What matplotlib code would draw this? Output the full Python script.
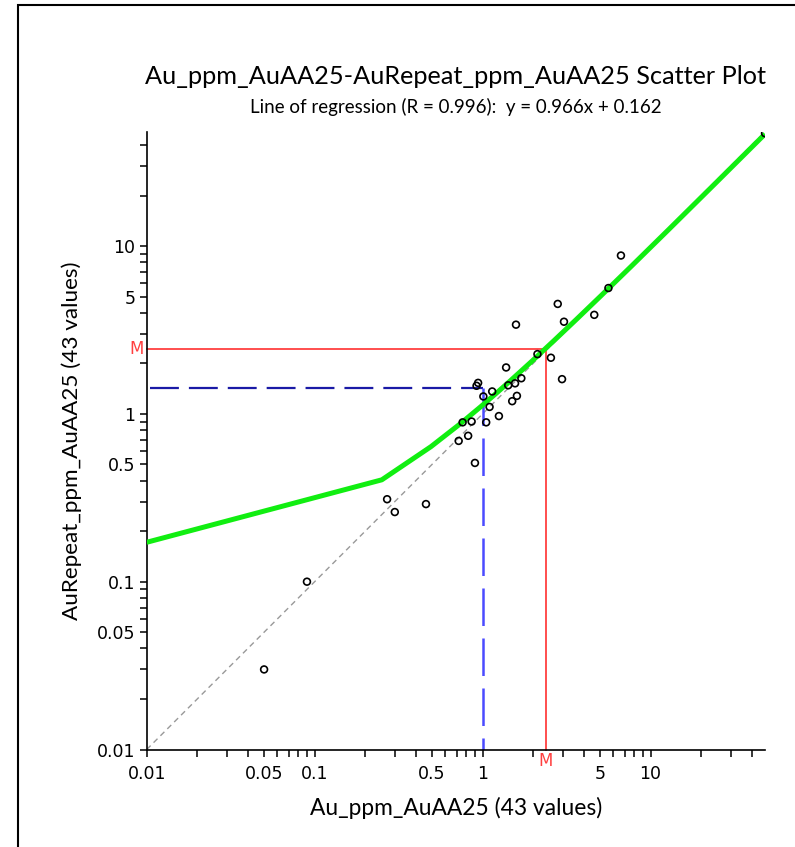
import numpy as np
import matplotlib
matplotlib.use('Agg')
import matplotlib.pyplot as plt
from matplotlib.ticker import FixedLocator, FixedFormatter, NullFormatter
from matplotlib.patches import Rectangle

# Au_ppm_AuAA25 (x) vs AuRepeat_ppm_AuAA25 (y), 43 values
# the last ten are below detection (0.005) and fall outside the 0.01 axis floor
au_ppm = [48.0, 6.66, 5.61, 4.62, 2.80, 3.05, 1.58, 2.12, 2.55, 1.38, 2.97,
          1.70, 1.56, 1.42, 0.94, 0.92, 1.14, 1.01, 1.60, 1.50, 1.10, 1.25,
          1.05, 0.86, 0.76, 0.82, 0.72, 0.90, 0.27, 0.30, 0.46, 0.09, 0.05,
          0.005, 0.005, 0.005, 0.005, 0.005, 0.005, 0.005, 0.005, 0.005, 0.005]
au_repeat = [47.0, 8.78, 5.62, 3.89, 4.52, 3.54, 3.40, 2.27, 2.16, 1.89, 1.61,
             1.63, 1.52, 1.48, 1.53, 1.47, 1.36, 1.27, 1.28, 1.19, 1.10, 0.97,
             0.89, 0.90, 0.89, 0.74, 0.69, 0.51, 0.31, 0.26, 0.29, 0.10, 0.03,
             0.005, 0.005, 0.005, 0.005, 0.005, 0.005, 0.005, 0.005, 0.005, 0.005]

slope = 0.966
intercept = 0.162
r_value = 0.996

cursor_x = 1.0
cursor_y = 1.43

tick_values = [0.01, 0.05, 0.1, 0.5, 1, 5, 10]
tick_labels = ['0.01', '0.05', '0.1', '0.5', '1', '5', '10']

title_font = 'Lato'

x = np.array(au_ppm)
y = np.array(au_repeat)
lo = 0.01
hi = max(x.max(), y.max())
mean_x = x.mean()
mean_y = y.mean()

fig = plt.figure(figsize=(7.95, 8.47), dpi=100)
fig.patch.set_facecolor('white')

# outer frame (cut off on the right and bottom, like the screenshot)
fig.patches.append(Rectangle((0.0226, -0.05), 1.2, 1.044, transform=fig.transFigure,
                             fill=False, edgecolor='black', linewidth=1.5))

ax = fig.add_axes([0.1845, 0.1151, 0.7778, 0.7294])
ax.set_xscale('log')
ax.set_yscale('log')
ax.set_xlim(lo, hi)
ax.set_ylim(lo, hi)

# 1:1 reference line
ax.plot([lo, hi], [lo, hi], color='#999999', linewidth=1, linestyle=(0, (4, 3)), zorder=1)

# mean lines
ax.plot([mean_x, mean_x], [lo, mean_y], color='#ff4040', linewidth=1.3, zorder=2, clip_on=False)
ax.plot([lo, mean_x], [mean_y, mean_y], color='#ff4040', linewidth=1.3, zorder=2, clip_on=False)

# cursor cross-hair
ax.plot([lo * 1.04, cursor_x], [cursor_y, cursor_y], color='#1a1aa6', linewidth=1.6,
        linestyle=(0, (13, 4.5)), zorder=2)
ax.plot([cursor_x, cursor_x], [cursor_y, lo], color='#4a4aff', linewidth=1.8,
        linestyle=(0, (15, 5)), zorder=2)

# regression line, evaluated on a linear grid
xl = np.linspace(lo, hi, 200)
ax.plot(xl, slope * xl + intercept, color='#11ee11', linewidth=3.6, zorder=3,
        solid_capstyle='butt')

ax.scatter(x, y, s=24, facecolors='none', edgecolors='black', linewidths=1.2, zorder=4)

# axes styling
for side in ['top', 'right']:
    ax.spines[side].set_visible(False)
for side in ['left', 'bottom']:
    ax.spines[side].set_linewidth(1.2)

minor = [m * 10.0 ** e for e in range(-2, 2) for m in range(1, 10)]
minor = [v for v in minor if v <= hi and not any(abs(v - t) < 1e-9 for t in tick_values)]
for axis in [ax.xaxis, ax.yaxis]:
    axis.set_major_locator(FixedLocator(tick_values))
    axis.set_major_formatter(FixedFormatter(tick_labels))
    axis.set_minor_locator(FixedLocator(minor))
    axis.set_minor_formatter(NullFormatter())
ax.tick_params(which='both', direction='out', length=5, width=1.1, labelsize=12.5,
               colors='black')
ax.tick_params(axis='x', which='major', pad=6)
ax.tick_params(axis='y', which='major', pad=3)

# "M" markers on the axes
ax.text(mean_x, -0.004, 'M', transform=ax.get_xaxis_transform(), color='#ff4040',
        fontsize=12, ha='center', va='top')
ax.text(-0.004, mean_y, 'M', transform=ax.get_yaxis_transform(), color='#ff4040',
        fontsize=12, ha='right', va='center')

cx = 0.1845 + 0.7778 / 2
fig.text(cx, 0.910, 'Au_ppm_AuAA25-AuRepeat_ppm_AuAA25 Scatter Plot',
         fontsize=18.2, family=title_font, ha='center', va='center')
fig.text(cx, 0.874, f'Line of regression (R = {r_value}):  y = {slope}x + {intercept}',
         fontsize=13.5, family=title_font, ha='center', va='center')
fig.text(cx, 0.046, 'Au_ppm_AuAA25 (43 values)', fontsize=16.4, family=title_font,
         ha='center', va='center')
fig.text(0.0906, 0.4798, 'AuRepeat_ppm_AuAA25 (43 values)', fontsize=16.2, family=title_font,
         ha='center', va='center', rotation=90)

fig.savefig('out.png', dpi=100)
